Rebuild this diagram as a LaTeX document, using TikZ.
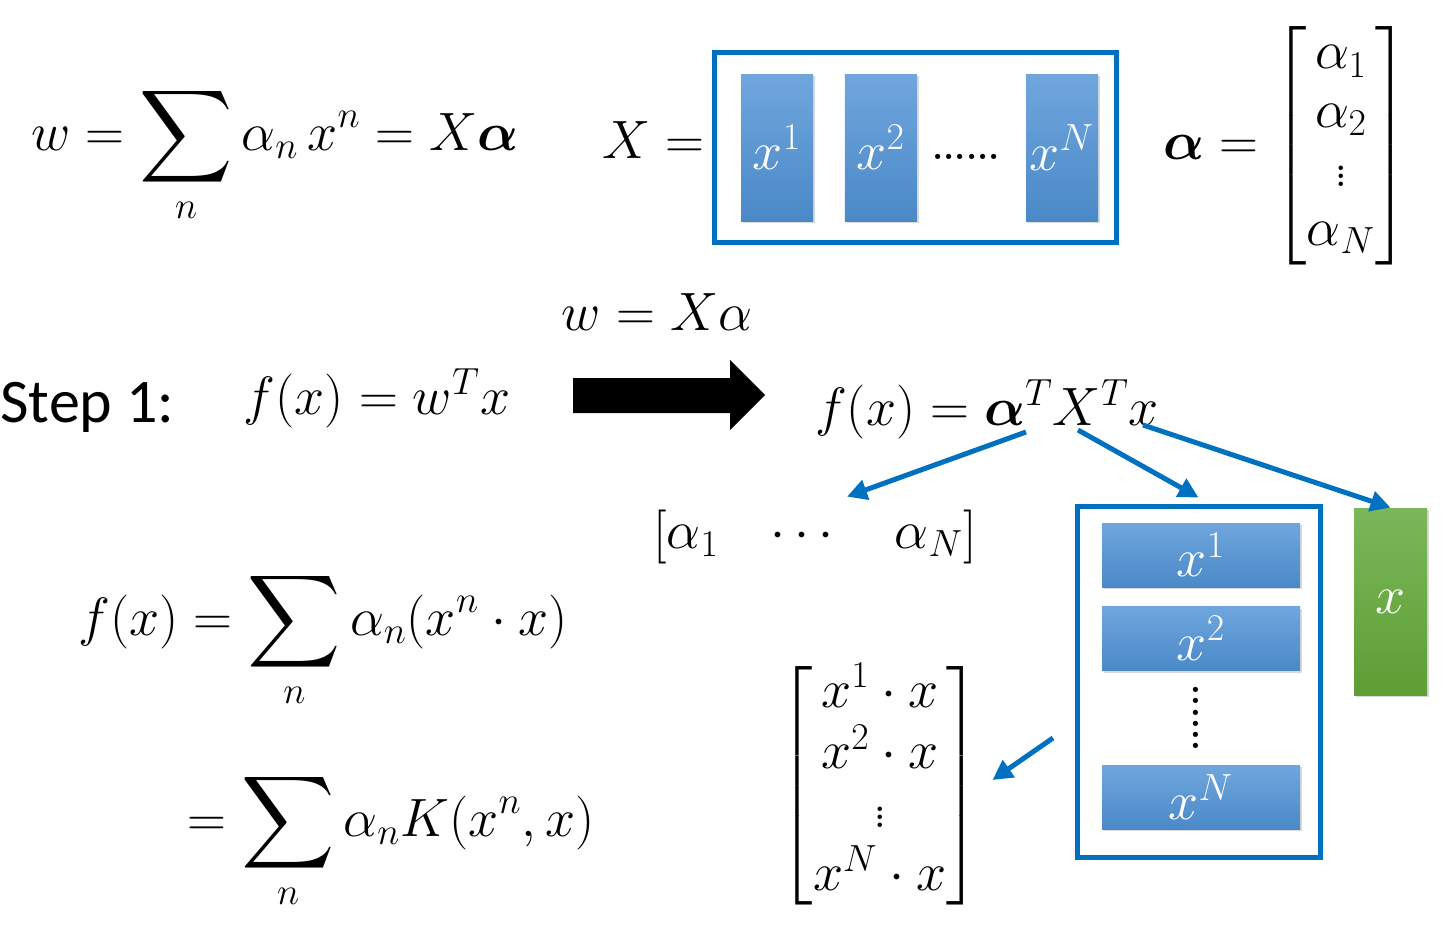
\RequirePackage{fix-cm}
\documentclass[tikz,border=0pt]{standalone}
\usepackage{amsmath}
\usepackage{bm}
\usepackage{fontspec}
\newfontfamily\calibri{Carlito}
\usetikzlibrary{positioning,arrows.meta,shadows}
\definecolor{ppblue}{HTML}{0070C0}
\definecolor{coltop}{HTML}{70A6DD}
\definecolor{colbot}{HTML}{4A89C8}
\definecolor{greentop}{HTML}{7BB75A}
\definecolor{greenbot}{HTML}{5E9E34}
\renewcommand{\arraystretch}{0.92}
% the slide's sums are drawn larger than a display sum
\newcommand{\bigsum}{\mathop{\vcenter{\hbox{\scalebox{1.3}{$\displaystyle\sum$}}}}\limits}

\begin{document}
\begin{tikzpicture}[
  x=0.5pt, y=-0.5pt,
  every node/.style = {inner sep=0pt},
  % one size for every formula, the slide sets them all alike
  eq/.style       = {font=\fontsize{27}{32}\selectfont},
  frame/.style    = {draw=ppblue, line width=2.5pt},
  colbar/.style   = {top color=coltop, bottom color=colbot, text=white, eq,
                     minimum width=36pt, minimum height=73.5pt,
                     drop shadow={shadow xshift=1.2pt, shadow yshift=-1.2pt, opacity=0.3}},
  rowbar/.style   = {colbar, minimum width=99pt, minimum height=32pt},
  greenbar/.style = {colbar, top color=greentop, bottom color=greenbot,
                     minimum width=36.5pt, minimum height=93.5pt},
  dotrow/.style   = {font=\fontsize{18}{22}\selectfont\bfseries},
  link/.style     = {-{Triangle[length=10pt, width=10pt]}, draw=ppblue, line width=2.5pt},
]
\useasboundingbox (0,0) rectangle (1452,937);

% ------------------------------------------------------------- top line --
\node[eq, anchor=base] (wsum) at (275,150) {$\displaystyle w = \bigsum_n \alpha_n\, x^n = X\bm{\alpha}$};
\node[eq, anchor=base east] (Xeq) at (705,158) {$X =$};
\node[colbar] (c1) at (777,147.5) {$x^1$};
\node[colbar, right=15.5pt of c1] (c2) {$x^2$};
\node[dotrow] (hdots) at (966,157) {......};
\node[colbar] (cN) at (1062,147.5) {$x^N$};
\node[frame, minimum width=201pt, minimum height=95pt] (Xbox) at (915,147) {};
\node[eq, anchor=base] (avec) at (1286,159)
  {$\bm{\alpha} = \begin{bmatrix}\alpha_1\\ \alpha_2\\ \vdots\\ \alpha_N\end{bmatrix}$};

% --------------------------------------------------------------- step 1 --
\node[font=\calibri\fontsize{31}{36}\selectfont, anchor=base west] (step) at (0,422) {Step 1:};
\node[eq, anchor=base] (fw) at (377,414) {$f(x) = w^T x$};
\fill (573,378) -- (730,378) -- (730,360) -- (765,395) -- (730,430) -- (730,413) -- (573,413) -- cycle;
\node[eq, anchor=base] (subst) at (657,330) {$w = X\alpha$};
\node[eq, anchor=base] (fa) at (987,425) {$f(x) = \bm{\alpha}^T X^T x$};

% ------------------------------------------------------------ the parts --
\node[eq, anchor=base] (rowvec) at (815,550)
  {$\setlength\arraycolsep{13pt}\begin{bmatrix}\alpha_1 & \cdots & \alpha_N\end{bmatrix}$};
\node[rowbar] (r1) at (1201,555) {$x^1$};
\node[rowbar] (r2) at (1201,638.5) {$x^2$};
\node[dotrow, rotate=90] (vdots) at (1196,718) {......};
\node[rowbar] (rN) at (1201,797) {$x^N$};
\node[frame, minimum width=121.5pt, minimum height=175.5pt] (colbox) at (1198.5,681.5) {};
\node[greenbar] (xbar) at (1390.5,601.5) {$x$};
\node[eq] (kmat) at (880,786)
  {$\begin{bmatrix} x^1\cdot x\\ x^2\cdot x\\ \vdots\\ x^N\cdot x\end{bmatrix}$};

% --------------------------------------------------------------- result --
\node[eq, anchor=base] (fsum) at (323,635) {$\displaystyle f(x) = \bigsum_n \alpha_n (x^n \cdot x)$};
\node[eq, anchor=base] (ksum) at (391,836) {$\displaystyle = \bigsum_n \alpha_n K(x^n, x)$};

% --------------------------------------------------------------- arrows --
\coordinate (aT) at (1026,432);
\coordinate (XT) at (1078,430);
\coordinate (xT) at (1143,425);
\coordinate (boxout) at (1053,738);
\draw[link] (aT) -- ([xshift=16pt, yshift=5pt]rowvec.north);
\draw[link] (XT) -- ([yshift=3pt]colbox.north);
\draw[link] (xT) -- (xbar.north);
\draw[link] (boxout) -- ([xshift=6pt, yshift=3pt]kmat.east);

\end{tikzpicture}
\end{document}
